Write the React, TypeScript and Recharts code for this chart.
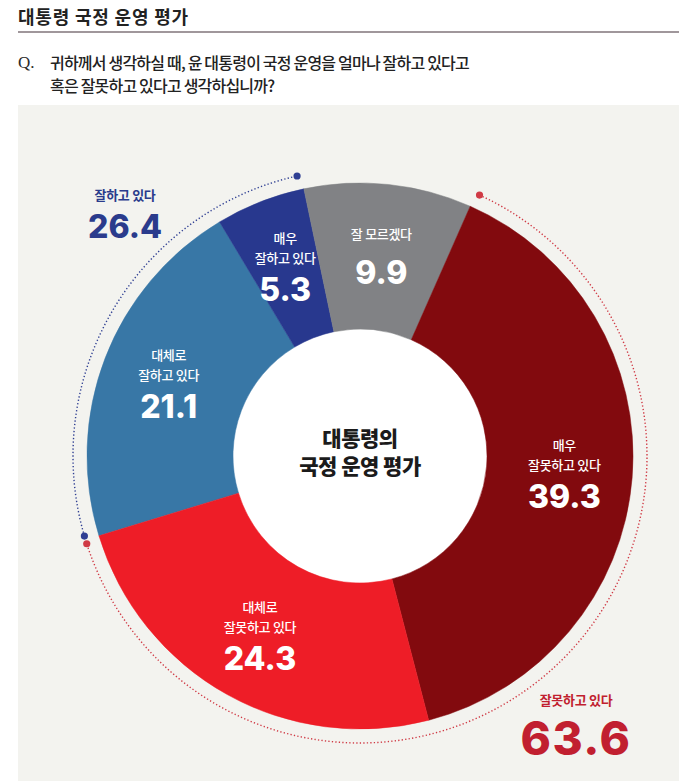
import { PieChart, Pie, Cell } from 'recharts';

// inner donut, clockwise from the left-top
const sliceNames = ['대체로\n잘하고 있다', '매우\n잘하고 있다', '잘 모르겠다', '매우\n잘못하고 있다', '대체로\n잘못하고 있다'];
const sliceValues = [21.1, 5.3, 9.9, 39.3, 24.3];
const sliceColors = ['#3877a6', '#28388e', '#818285', '#820a0e', '#ee1d27'];

// outer dotted ring (summed answers)
const groupNames = ['잘하고 있다', '잘 모르겠다', '잘못하고 있다'];
const groupValues = [26.4, 9.9, 63.6];
const groupColors = ['#2f3f93', '', '#d03a45'];

const W = 679;
const H = 781;
const CX = 360;
const CY = 456;
const START = 197;
const RAD = Math.PI / 180;

const sliceData = sliceNames.map((name, i) => ({ name, value: sliceValues[i] }));
const groupData = groupNames.map((name, i) => ({ name, value: groupValues[i] }));

const KR = "'Noto Sans CJK KR', 'Noto Sans', sans-serif";
const NUM = "Inter, 'Noto Sans', sans-serif";

function SliceLabel(props: any) {
  const { midAngle, index } = props;
  const cx = typeof props.cx === 'number' ? props.cx : CX;
  const cy = typeof props.cy === 'number' ? props.cy : CY;
  const r = 205;
  const x = cx + r * Math.cos(-midAngle * RAD);
  const y = cy + r * Math.sin(-midAngle * RAD);
  const lines = sliceNames[index].split('\n');
  const top = lines.length === 2 ? y - 28 : y - 19;
  const numY = lines.length === 2 ? y + 24 : y + 20;
  return (
    <g>
      {lines.map((t, i) => (
        <text key={i} x={x} y={top + i * 20} textAnchor="middle" dominantBaseline="central"
          fill="#fff" fontFamily={KR} fontSize={13} fontWeight={500} letterSpacing={-0.3}>
          {t}
        </text>
      ))}
      <text x={x} y={numY} textAnchor="middle" dominantBaseline="central"
        fill="#fff" fontFamily={NUM} fontSize={32} fontWeight={800}>
        {sliceValues[index].toFixed(1)}
      </text>
    </g>
  );
}

function GroupArc(props: any) {
  const { startAngle, endAngle, index } = props;
  const color = groupColors[index];
  if (!color) return <g />;
  const cx = typeof props.cx === 'number' ? props.cx : CX;
  const cy = typeof props.cy === 'number' ? props.cy : CY;
  const r = 287;
  const a1 = startAngle - 0.8;
  const a2 = endAngle + 0.8;
  const pt = (a: number) => [cx + r * Math.cos(-a * RAD), cy + r * Math.sin(-a * RAD)];
  const [x1, y1] = pt(a1);
  const [x2, y2] = pt(a2);
  const large = Math.abs(a1 - a2) > 180 ? 1 : 0;
  return (
    <g>
      <path d={`M${x1},${y1} A${r},${r} 0 ${large} 1 ${x2},${y2}`} fill="none"
        stroke={color} strokeWidth={1.4} strokeDasharray="1.3 2.2" />
      <circle cx={x1} cy={y1} r={3.6} fill={color} />
      <circle cx={x2} cy={y2} r={3.6} fill={color} />
    </g>
  );
}

export default function App() {
  return (
    <div style={{ position: 'absolute', left: 0, top: 0, width: W, height: H, background: '#fff', overflow: 'hidden' }}>
      <div style={{ position: 'absolute', left: 18, top: 4, lineHeight: '24px', fontSize: 18, fontWeight: 700, color: '#222', fontFamily: KR, letterSpacing: 0.8 }}>
        대통령 국정 운영 평가
      </div>
      <div style={{ position: 'absolute', left: 18, top: 31, width: 661, height: 1.5, background: '#a0979b' }} />
      <div style={{ position: 'absolute', left: 18, top: 51, lineHeight: '23px', fontSize: 17, color: '#2a2a2a', fontFamily: "'Liberation Serif', serif" }}>
        Q.
      </div>
      <div style={{ position: 'absolute', left: 50, top: 51, lineHeight: '23px', fontSize: 16, fontWeight: 500, color: '#222', fontFamily: KR, letterSpacing: -0.8 }}>
        귀하께서 생각하실 때, 윤 대통령이 국정 운영을 얼마나 잘하고 있다고<br />
        혹은 잘못하고 있다고 생각하십니까?
      </div>
      <div style={{ position: 'absolute', left: 18, top: 105, width: 661, height: 676, background: '#f3f3ef' }} />
      <div style={{ position: 'absolute', left: CX - 128, top: CY - 128, width: 256, height: 256, borderRadius: '50%', background: '#fff' }} />

      <div style={{ position: 'absolute', left: 0, top: 0 }}>
        <PieChart width={W} height={H} margin={{ top: 0, right: 0, bottom: 0, left: 0 }}>
          <Pie
            data={sliceData}
            dataKey="value"
            nameKey="name"
            cx={CX}
            cy={CY}
            innerRadius={127}
            outerRadius={273}
            startAngle={START}
            endAngle={START - 360}
            stroke="none"
            label={SliceLabel}
            labelLine={false}
            isAnimationActive={false}
          >
            {sliceData.map((d, i) => (
              <Cell key={d.name} fill={sliceColors[i]} stroke={sliceColors[i]} strokeWidth={0.5} />
            ))}
          </Pie>
          <Pie
            data={groupData}
            dataKey="value"
            nameKey="name"
            cx={CX}
            cy={CY}
            innerRadius={286.5}
            outerRadius={287}
            startAngle={START}
            endAngle={START - 360}
            fill="none"
            stroke="none"
            label={GroupArc}
            labelLine={false}
            isAnimationActive={false}
          >
            {groupData.map((d) => (
              <Cell key={d.name} fill="none" stroke="none" />
            ))}
          </Pie>
        </PieChart>
      </div>

      <div style={{ position: 'absolute', left: CX - 80, top: 423, width: 160, textAlign: 'center', lineHeight: '28px', fontSize: 21, fontWeight: 800, color: '#1b1b1b', fontFamily: KR, letterSpacing: -0.5 }}>
        대통령의<br />국정 운영 평가
      </div>

      <div style={{ position: 'absolute', left: 65, top: 185, width: 120, textAlign: 'center', color: '#2a3b8c' }}>
        <div style={{ fontFamily: KR, fontSize: 13, fontWeight: 600, lineHeight: '20px', letterSpacing: -0.3 }}>{groupNames[0]}</div>
        <div style={{ fontFamily: NUM, fontSize: 32, fontWeight: 800, lineHeight: '36px', marginTop: 4 }}>{groupValues[0].toFixed(1)}</div>
      </div>
      <div style={{ position: 'absolute', left: 496, top: 690, width: 160, textAlign: 'center', color: '#c11f30' }}>
        <div style={{ fontFamily: KR, fontSize: 13, fontWeight: 600, lineHeight: '20px', letterSpacing: -0.3 }}>{groupNames[2]}</div>
        <div style={{ fontFamily: NUM, fontSize: 46, fontWeight: 800, lineHeight: '40px', marginTop: 8, letterSpacing: 1.5 }}>{groupValues[2].toFixed(1)}</div>
      </div>
    </div>
  );
}
